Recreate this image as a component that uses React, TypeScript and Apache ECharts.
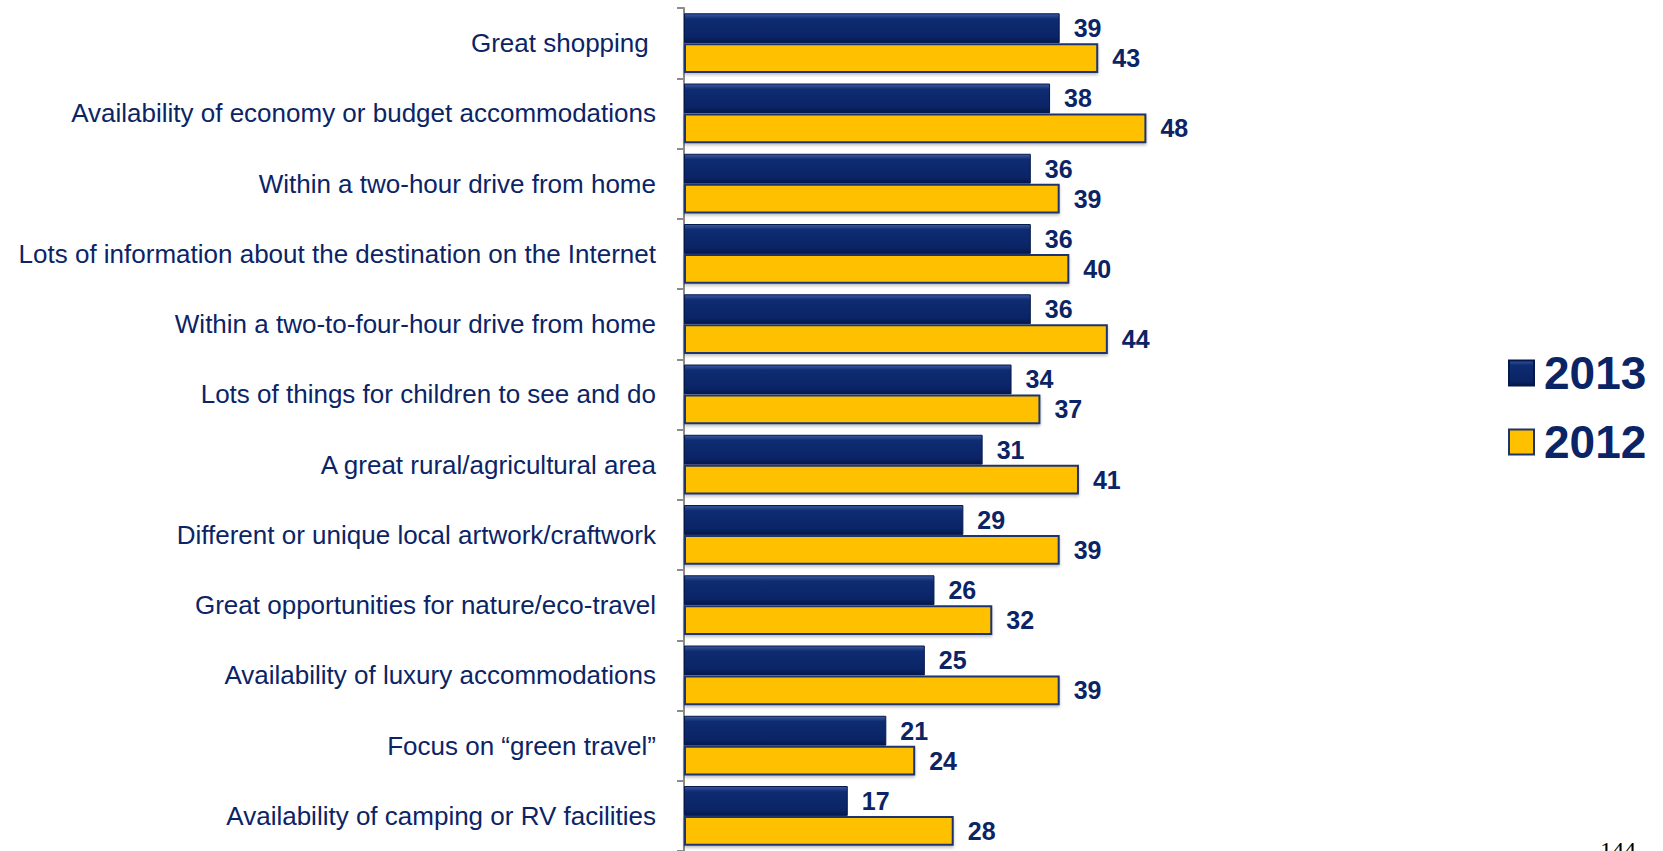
import React, { useEffect, useRef } from "react";
import * as echarts from "echarts";

const categories = [
  "Great shopping ",
  "Availability of economy or budget accommodations",
  "Within a two-hour drive from home",
  "Lots of information about the destination on the Internet",
  "Within a two-to-four-hour drive from home",
  "Lots of things for children to see and do",
  "A great rural/agricultural area",
  "Different or unique local artwork/craftwork",
  "Great opportunities for nature/eco-travel",
  "Availability of luxury accommodations",
  "Focus on \u201cgreen travel\u201d",
  "Availability of camping or RV facilities",
];
const values2013 = [39, 38, 36, 36, 36, 34, 31, 29, 26, 25, 21, 17];
const values2012 = [43, 48, 39, 40, 44, 37, 41, 39, 32, 39, 24, 28];
const seriesNames = ["2013", "2012"];

const NAVY = "#0b2466";

export default function App() {
  const ref = useRef<HTMLDivElement>(null);
  useEffect(() => {
    document.body.style.margin = "0";
    const chart = echarts.init(ref.current!, null, { renderer: "svg" });
    const navyGrad = new echarts.graphic.LinearGradient(0, 0, 0, 1, [
      { offset: 0, color: "#3a5aa0" },
      { offset: 0.18, color: "#0f2c72" },
      { offset: 0.8, color: "#0a2466" },
      { offset: 1, color: "#05184c" },
    ]);
    const valueLabel = {
      show: true,
      position: "right",
      distance: 14,
      color: NAVY,
      fontSize: 25,
      fontWeight: "bold",
      fontFamily: "Arial, 'Liberation Sans', sans-serif",
    };
    chart.setOption({
      animation: false,
      backgroundColor: "#ffffff",
      grid: { left: 684, top: 8, width: 578, height: 847, containLabel: false },
      xAxis: {
        type: "value",
        min: 0,
        max: 60,
        show: false,
      },
      yAxis: {
        type: "category",
        inverse: true,
        data: categories,
        axisLine: { show: true, lineStyle: { color: "#8c8c8c", width: 2 } },
        axisTick: { show: true, length: 7, lineStyle: { color: "#8c8c8c", width: 2 } },
        axisLabel: {
          margin: 28,
          color: NAVY,
          fontSize: 26,
          fontFamily: "'Liberation Sans Narrow', 'Arial Narrow', Arial, sans-serif",
        },
        splitLine: { show: false },
      },
      legend: {
        orient: "vertical",
        left: 1503,
        top: 343,
        itemWidth: 25,
        itemHeight: 25,
        itemGap: 19,
        icon: "rect",
        data: seriesNames,
        textStyle: {
          color: NAVY,
          fontSize: 46,
          fontWeight: "bold",
          fontFamily: "Arial, 'Liberation Sans', sans-serif",
          lineHeight: 50,
          padding: [0, 0, 0, 5],
        },
      },
      series: [
        {
          name: seriesNames[0],
          type: "bar",
          data: values2013,
          barGap: "0%",
          barCategoryGap: "15%",
          itemStyle: { color: navyGrad, borderColor: "#05184c", borderWidth: 1 },
          label: valueLabel,
        },
        {
          name: seriesNames[1],
          type: "bar",
          data: values2012,
          barGap: "0%",
          barCategoryGap: "15%",
          itemStyle: {
            color: "#ffc000",
            borderColor: "#1c3470",
            borderWidth: 2,
            shadowColor: "rgba(0,0,0,0.25)",
            shadowBlur: 3,
            shadowOffsetY: 2,
          },
          label: valueLabel,
        },
      ],
      graphic: [
        {
          type: "text",
          left: 1600,
          top: 838,
          style: { text: "144", fontSize: 24, fill: "#000", fontFamily: "'Liberation Serif', serif" },
        },
      ],
    });
    return () => chart.dispose();
  }, []);
  return (
    <div
      ref={ref}
      style={{ position: "absolute", left: 0, top: 0, width: 1663, height: 851 }}
    />
  );
}
